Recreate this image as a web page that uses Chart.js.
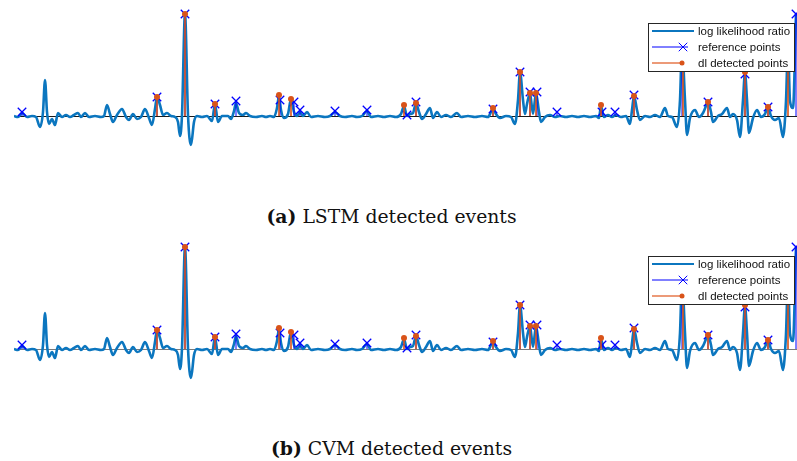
<!DOCTYPE html>
<html lang="en">
<head>
  <meta charset="UTF-8">
  <title>Detected events</title>
  <script src="https://cdn.jsdelivr.net/npm/chart.js"></script>
  <style>
    body { margin: 0; background: #fff; width: 797px; height: 461px; overflow: hidden; position: relative; }
    .panel { position: absolute; left: 0; width: 797px; height: 160px; }
    .caption { position: absolute; left: 0; width: 783px; text-align: center; font-family: "DejaVu Serif", serif; font-size: 18.8px; line-height: 20px; color: #111; }
  </style>
</head>
<body>

<div class="panel" style="top:0"><canvas id="lstmChart" width="797" height="160"></canvas></div>
<div class="caption" style="top:206px"><b>(a)</b> LSTM detected events</div>

<div class="panel" style="top:233px"><canvas id="cvmChart" width="797" height="160"></canvas></div>
<div class="caption" style="top:438px"><b>(b)</b> CVM detected events</div>

<script>
// log likelihood ratio (time in samples, value)
const llrTime = [
  0, 4, 8, 13, 18, 22, 26, 29, 31, 33, 35, 38, 41, 44, 48, 52, 56, 60, 64, 67, 71, 75, 81, 87,
  90, 93, 96, 99, 103, 108, 112, 115, 119, 123, 127, 131, 135, 138, 141, 143, 146, 149, 153, 157,
  161, 164, 166, 168, 171, 174, 177, 180, 183, 188, 193, 198, 201, 204, 208, 214, 217, 220, 222,
  225, 229, 232, 236, 242, 248, 252, 256, 260, 263, 265, 267, 270, 274, 277, 280, 283, 286, 289,
  293, 297, 304, 311, 316, 321, 326, 331, 338, 343, 348, 353, 357, 364, 370, 376, 382, 387, 390,
  393, 396, 399, 402, 405, 408, 412, 416, 419, 423, 427, 432, 437, 443, 447, 454, 461, 468, 474,
  477, 479, 482, 486, 492, 497, 501, 504, 506, 509, 511, 513, 516, 519, 522, 525, 527, 531, 536,
  541, 546, 552, 558, 564, 570, 576, 582, 585, 587, 590, 594, 598, 602, 607, 612, 616, 618, 620,
  623, 626, 631, 636, 641, 646, 651, 654, 658, 663, 666, 668, 671, 673, 676, 681, 685, 689, 692,
  694, 697, 699, 704, 708, 713, 716, 719, 723, 726, 729, 731, 733, 735, 739, 743, 747, 751, 754,
  757, 761, 765, 769, 772, 774, 776, 779, 782
];
const llrValue = [
  0, -0.1, 0.3, -0.1, 0, -0.1, -1.1, 0.4, 3.6, 0.4, -0.8, -0.3, -0.9, 0.3, -0.1, 0.1, -0.1, 0.1, 0.3, -0.1, 0.3, -0.1, 0, -0.1,
  0, 1.1, 0.2, -0.6, 0.1, 0.7, -0.1, -0.4, 0.2, -0.3, -0.1, 0.7, -0.2, -0.9, 0.7, 1.9, 1.1, 0.1, 0.3, 0,
  -0.1, -0.6, -2.0, 0.1, 10.2, 0.1, -2.9, -0.6, 0, -0.1, 0, -0.5, 1.2, -0.6, 0, 0, -0.3, 0.5, 1.3,
  0.3, 0.1, 0.3, 0, -0.1, 0, -0.1, 0, -0.1, 0.8, 2.0, 0.6, -0.2, 0.2, 1.7, 0.4, 0, 0.4, 0,
  0.4, -0.1, 0, -0.1, 0, 0.4, 0, -0.1, 0, -0.1, 0, 0.5, -0.1, 0, -0.1, 0, -0.1, 0.2, 1.0,
  0, 0.2, 0.3, 1.3, 0.4, -0.3, 0.2, 0.8, -0.2, 0.4, -0.1, 0.1, -0.1, 0.3, -0.1, 0, -0.1, 0, -0.1,
  0.4, 0.8, 0.2, -0.2, 0, -0.1, -0.8, 1.6, 4.4, 1.6, 0.2, 1.2, 2.3, 0.2, 2.3, 0.4, -0.6, -0.1, 0.1,
  -0.1, 0, -0.1, 0, -0.1, 0, -0.1, 0, -0.2, 1.0, -0.1, 0.1, -0.1, 0.1, -0.1, 0, -0.8, 0.6, 2.0,
  0.6, -0.4, 0, -0.1, 0.1, -0.1, 0.8, 0, -0.1, -1.1, 1.6, 7.0, 1.6, -1.9, -0.2, 0.6, -0.1, 0.3, 1.0,
  1.4, 0.4, -0.6, 0, 0.2, 0.8, -0.1, 0.2, -0.4, -2.1, 1.6, 4.3, 1.6, -1.7, -0.2, 0.6, -0.1, 0.2, 0.9,
  0, -0.4, -0.2, -2.1, 1.5, 7.0, 1.5, 0.8, 10.2
];

// reference points (same for both panels)
const refTime  = [8, 143, 171, 201, 222, 266, 280, 286, 321, 353, 393, 402, 479, 506, 516, 523, 543, 588, 601, 620, 668, 694, 731, 754, 782];
const refValue = [0.4, 1.9, 10.2, 1.2, 1.5, 1.6, 1.4, 0.6, 0.5, 0.6, 0.1, 1.4, 0.7, 4.4, 2.4, 2.4, 0.4, 0.4, 0.4, 2.1, 7.0, 1.4, 4.2, 0.9, 10.2];

// dl detected points
const lstmTime  = [143, 171, 201, 265, 277, 390, 402, 479, 506, 516, 522, 587, 620, 669, 694, 731, 754, 774];
const lstmValue = [1.9, 10.2, 1.2, 2.1, 1.7, 1.1, 1.3, 0.8, 4.4, 2.3, 2.3, 1.1, 2.0, 7.0, 1.4, 4.4, 0.9, 7.0];
const cvmTime   = [143, 171, 201, 265, 277, 390, 402, 479, 506, 516, 522, 587, 620, 669, 694, 731, 754, 774];
const cvmValue  = [1.9, 10.2, 1.2, 2.1, 1.7, 1.1, 1.3, 0.8, 4.4, 2.3, 2.3, 1.1, 2.0, 7.0, 1.4, 4.4, 0.9, 7.0];

const legendLabels = ['log likelihood ratio', 'reference points', 'dl detected points'];

const LLR_BLUE = '#0b76bf';
const REF_BLUE = '#0000ff';
const DL_ORANGE = '#d95319';

// stem plot: baseline -> value -> gap, for each event
function stems(times, values) {
  const out = [];
  times.forEach((t, i) => {
    out.push({x: t, y: 0}, {x: t, y: values[i]}, {x: t, y: null});
  });
  return out;
}

// boxed legend in the upper right corner, like the MATLAB one
const boxLegend = {
  id: 'boxLegend',
  afterDraw(chart) {
    const c = chart.ctx;
    const x0 = 648, y0 = 23, w = 146, h = 48;
    const rows = [31, 47, 63];
    c.save();
    c.fillStyle = '#fff';
    c.fillRect(x0, y0, w, h);
    c.strokeStyle = '#262626';
    c.lineWidth = 1;
    c.strokeRect(x0 + 0.5, y0 + 0.5, w, h);

    c.lineWidth = 2;
    c.strokeStyle = LLR_BLUE;
    c.beginPath(); c.moveTo(652, rows[0]); c.lineTo(694, rows[0]); c.stroke();

    c.lineWidth = 1;
    c.strokeStyle = REF_BLUE;
    c.beginPath(); c.moveTo(652, rows[1]); c.lineTo(688, rows[1]); c.stroke();
    Chart.helpers.drawPoint(c, {pointStyle: 'crossRot', radius: 6, borderWidth: 1.3}, 683, rows[1]);

    c.lineWidth = 2;
    c.strokeStyle = '#ec9a78';
    c.beginPath(); c.moveTo(652, rows[2]); c.lineTo(682, rows[2]); c.stroke();
    c.fillStyle = DL_ORANGE;
    c.beginPath(); c.arc(682, rows[2], 2.5, 0, Math.PI * 2); c.fill();

    c.fillStyle = '#111';
    c.font = '11.5px "Liberation Sans", Arial, sans-serif';
    c.textBaseline = 'middle';
    legendLabels.forEach((txt, i) => c.fillText(txt, 698, rows[i] + 0.5));
    c.restore();
  }
};

function makeChart(id, dlTime, dlValue, zeroColor) {
  const ctx = document.getElementById(id).getContext('2d');
  return new Chart(ctx, {
    type: 'line',
    data: {
      datasets: [
        {
          label: legendLabels[0],
          data: llrTime.map((t, i) => ({x: t, y: llrValue[i]})),
          borderColor: LLR_BLUE,
          borderWidth: 2.6,
          pointRadius: 0,
          cubicInterpolationMode: 'monotone',
          order: 3
        },
        {
          label: legendLabels[1],
          data: stems(refTime, refValue),
          borderColor: REF_BLUE,
          borderWidth: 1,
          pointStyle: 'crossRot',
          pointRadius: c => c.dataIndex % 3 === 1 ? 6 : 0,
          pointBorderWidth: 1.3,
          pointBorderColor: REF_BLUE,
          order: 2
        },
        {
          label: legendLabels[2],
          data: stems(dlTime, dlValue),
          borderColor: DL_ORANGE,
          borderWidth: 1.6,
          pointStyle: 'circle',
          pointRadius: c => c.dataIndex % 3 === 1 ? 3 : 0,
          pointBackgroundColor: DL_ORANGE,
          pointBorderWidth: 0,
          order: 1
        }
      ]
    },
    options: {
      responsive: false,
      animation: false,
      layout: { padding: { left: 14, right: 0, top: 6, bottom: 4 } },
      plugins: { legend: { display: false }, tooltip: { enabled: false } },
      scales: {
        x: { type: 'linear', min: 0, max: 783, display: false },
        y: {
          min: -4, max: 11,
          ticks: { display: false, stepSize: 1 },
          border: { display: false },
          grid: {
            drawTicks: false,
            lineWidth: 1,
            color: c => c.tick && c.tick.value === 0 ? zeroColor : 'rgba(0,0,0,0)'
          }
        }
      }
    },
    plugins: [boxLegend]
  });
}

makeChart('lstmChart', lstmTime, lstmValue, '#1a1a1a');
makeChart('cvmChart', cvmTime, cvmValue, '#7a7a7a');
</script>
</body>
</html>
